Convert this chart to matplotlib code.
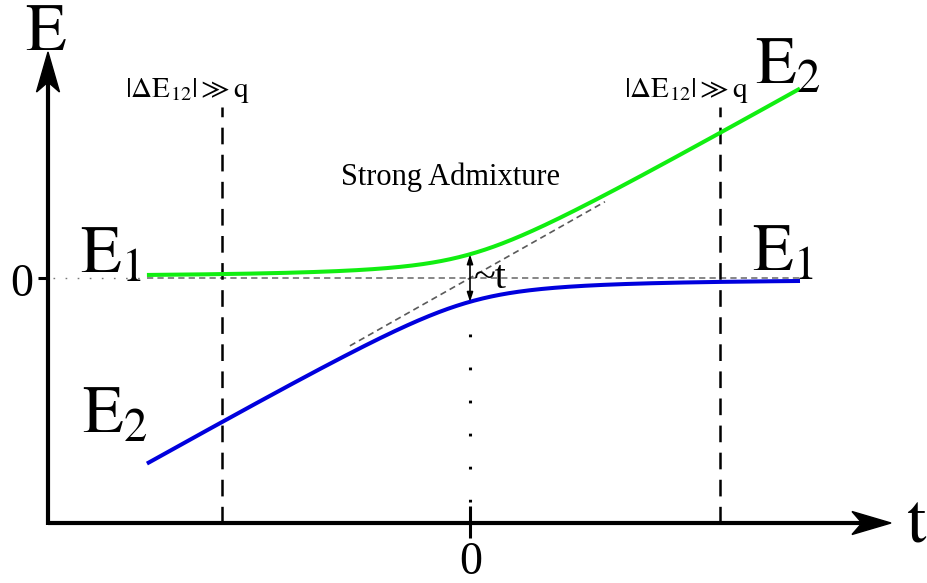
import numpy as np
import matplotlib
matplotlib.use("Agg")
import matplotlib.pyplot as plt
from matplotlib.patches import Polygon

plt.rcParams["mathtext.fontset"] = "stix"
plt.rcParams["font.family"] = ["Liberation Serif", "DejaVu Serif"]
plt.rcParams["lines.scale_dashes"] = False

# Two-level model: flat level E1 crossed by a linearly sweeping level E2 = slope * t,
# mixed by the coupling q.
t_start, t_end = -0.979, 1.0
slope = 0.565
coupling = 0.072
level_E1 = 0.0
t_weak = [-0.7515, 0.7576]       # where |dE12| >> q
diag_window = [-0.364, 0.409]     # visible part of the unperturbed E2 line

t = np.linspace(t_start, t_end, 600)
E2_bare = slope * t
mean = 0.5 * (level_E1 + E2_bare)
half = np.sqrt((0.5 * (E2_bare - level_E1)) ** 2 + coupling ** 2)
E_upper = mean + half
E_lower = mean - half

# Layout: 330 px per unit, origin at pixel (470, 278)
S = 330.0
W, H = 928, 583
def X(px):
    return (px - 470) / S
def Y(py):
    return (278 - py) / S

fig = plt.figure(figsize=(W / 100, H / 100), dpi=100)
ax = fig.add_axes([0, 0, 1, 1])
ax.set_xlim(X(0), X(W))
ax.set_ylim(Y(H), Y(0))
ax.axis("off")

x_axis_E = Y(523)
y_axis_t = X(48)

# axes with notched arrowheads
ax.plot([y_axis_t, X(870)], [x_axis_E, x_axis_E], color="black", lw=3.0,
        solid_capstyle="butt", zorder=5)
ax.plot([y_axis_t, y_axis_t], [x_axis_E - 2.2 / S, Y(75)], color="black", lw=3.0,
        solid_capstyle="butt", zorder=5)
ax.add_patch(Polygon([(X(891), Y(523)), (X(852), Y(511.5)), (X(862), Y(523)),
                      (X(852), Y(534.5))], closed=True, color="black", zorder=6))
ax.add_patch(Polygon([(X(48), Y(52)), (X(36.5), Y(92)), (X(48), Y(82)),
                      (X(59.5), Y(92))], closed=True, color="black", zorder=6))

# ticks at zero
ax.plot([X(38), y_axis_t], [0, 0], color="black", lw=2.2, solid_capstyle="butt", zorder=5)
ax.plot([0, 0], [Y(506), Y(538)], color="black", lw=2.2, solid_capstyle="butt", zorder=5)

# reference lines
ax.plot([X(53), t_start], [level_E1, level_E1], color="#777777", lw=1.0,
        dashes=(1.2, 7.5), zorder=1)
ax.plot([t_start, t_end], [level_E1, level_E1], color="#666666", lw=1.1,
        dashes=(4.5, 3.0), zorder=1)
td = np.array(diag_window)
ax.plot(td, slope * td, color="#5a5a5a", lw=1.2, dashes=(4.5, 3.0), zorder=1)

# vertical dashed bounds of the weak-mixing region
for tw in t_weak:
    ax.plot([tw, tw], [x_axis_E, Y(107)], color="black", lw=1.8,
            dashes=(12.0, 7.5), zorder=2)

# dotted guide at t = 0
ax.plot([0, 0], [Y(334), Y(502)], color="black", lw=2.2, dashes=(2.0, 21.8), zorder=2)

# energy levels
ax.plot(t, E_upper, color="#11ee11", lw=2.9, zorder=3, solid_capstyle="butt")
ax.plot(t, E_lower, color="#0000dd", lw=2.9, zorder=3, solid_capstyle="butt")

# gap arrow
i0 = np.argmin(np.abs(t))
ax.annotate("", xy=(0, E_lower[i0]), xytext=(0, E_upper[i0]),
            arrowprops=dict(arrowstyle="<|-|>,head_length=0.55,head_width=0.18",
                            color="black", lw=1.2, shrinkA=0, shrinkB=0), zorder=4)

# labels
big = 48
ax.text(X(46), Y(50), r"$\mathrm{E}$", fontsize=big, ha="center", va="baseline")
ax.text(X(906), Y(541), r"$\mathrm{t}$", fontsize=big + 2, ha="left", va="baseline")
ax.text(X(22), Y(296), "0", fontsize=33, ha="center", va="baseline")
ax.text(X(471), Y(574), "0", fontsize=33, ha="center", va="baseline")

ax.text(X(80), Y(272), r"$\mathrm{E}_1$", fontsize=big, ha="left", va="baseline")
ax.text(X(82), Y(432), r"$\mathrm{E}_2$", fontsize=big, ha="left", va="baseline")
ax.text(X(752), Y(270), r"$\mathrm{E}_1$", fontsize=big, ha="left", va="baseline")
ax.text(X(755), Y(83), r"$\mathrm{E}_2$", fontsize=big, ha="left", va="baseline")

for cx in (187, 686):
    ax.text(X(cx), Y(97), r"$|\Delta\mathrm{E}_{12}|\gg\mathrm{q}$", fontsize=21,
            ha="center", va="baseline")

ax.text(X(451), Y(185), "Strong Admixture", fontsize=22, ha="center", va="baseline")
ax.text(X(474), Y(288), "~t", fontsize=29, ha="left", va="baseline")

fig.savefig("out.png", dpi=100)
